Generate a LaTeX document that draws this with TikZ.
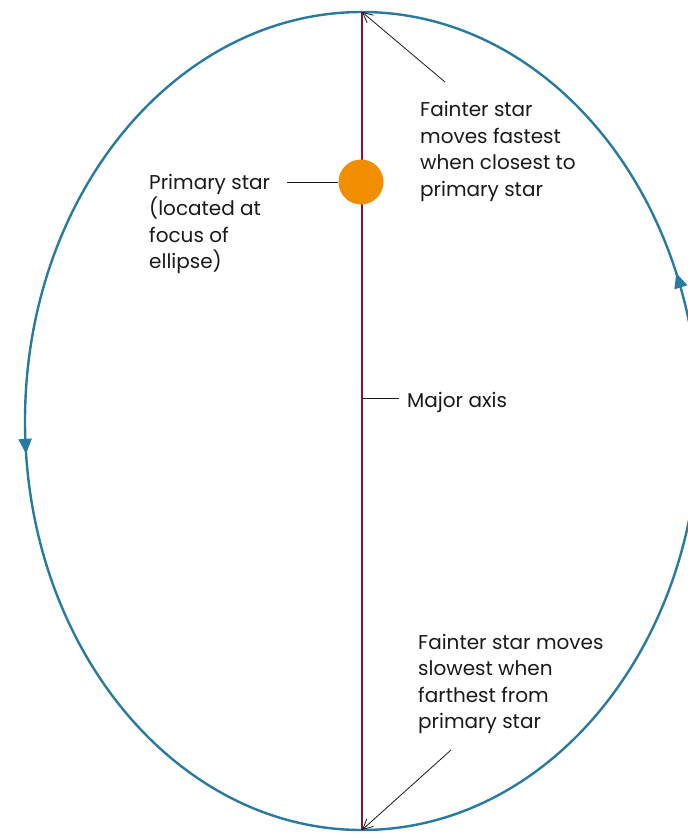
\documentclass[tikz,border=0pt]{standalone}
\usepackage{fontspec}
\setmainfont{Poppins}
\usetikzlibrary{arrows.meta, decorations.markings}

\definecolor{orbitblue}{RGB}{40,122,160}
\definecolor{axisred}{RGB}{125,22,52}
\definecolor{starorange}{RGB}{240,142,0}
\definecolor{textgray}{RGB}{25,25,25}

\tikzset{
  note/.style={anchor=base west, inner sep=0pt, align=left, text=textgray,
    font=\fontsize{20}{26.5}\selectfont},
  pointer/.style={draw=textgray, line width=0.8pt, -{Straight Barb[length=10pt, width=10pt]}},
  tick/.style={draw=textgray, line width=0.9pt},
  orbit/.style={draw=orbitblue, line width=2.4pt, postaction=decorate,
    decoration={markings,
      mark=at position 0.486 with {\arrowreversed[orbitblue]{Triangle[length=15pt, width=13pt]}},
      mark=at position 0.936 with {\arrowreversed[orbitblue]{Triangle[length=15pt, width=13pt]}}}}
}

\begin{document}
\begin{tikzpicture}[x=1pt, y=-1pt]
  \useasboundingbox (0,0) rectangle (687,834);
  \coordinate (C) at (362,421);
  \coordinate (T) at (362,12);
  \coordinate (B) at (362,830);

  % orbit and major axis
  \draw[orbit] (C) ellipse [x radius=337, y radius=409];
  \draw[axisred, line width=2pt] (T) -- (B);
  \node[circle, fill=starorange, minimum size=45pt, inner sep=0pt] (star) at (361,182) {};

  % labels (base = last line)
  \node[note] (prim) at (149,268.5) {Primary star\\(located at\\focus of\\ellipse)};
  \node[note] (fast) at (420,196.5) {Fainter star\\moves fastest\\when closest to\\primary star};
  \node[note] (major) at (407,407) {Major axis};
  \node[note] (slow) at (418,728.5) {Fainter star moves\\slowest when\\farthest from\\primary star};

  \coordinate (P1) at (287,182);
  \coordinate (M1) at (363,398);
  \coordinate (M2) at (399,398);
  \coordinate (F1) at (445,82);
  \coordinate (S1) at (451,750);

  \draw[tick] (P1) -- (star.west);
  \draw[tick] (M1) -- (M2);
  \draw[pointer] (F1) -- (T);
  \draw[pointer] (S1) -- (B);
\end{tikzpicture}
\end{document}
